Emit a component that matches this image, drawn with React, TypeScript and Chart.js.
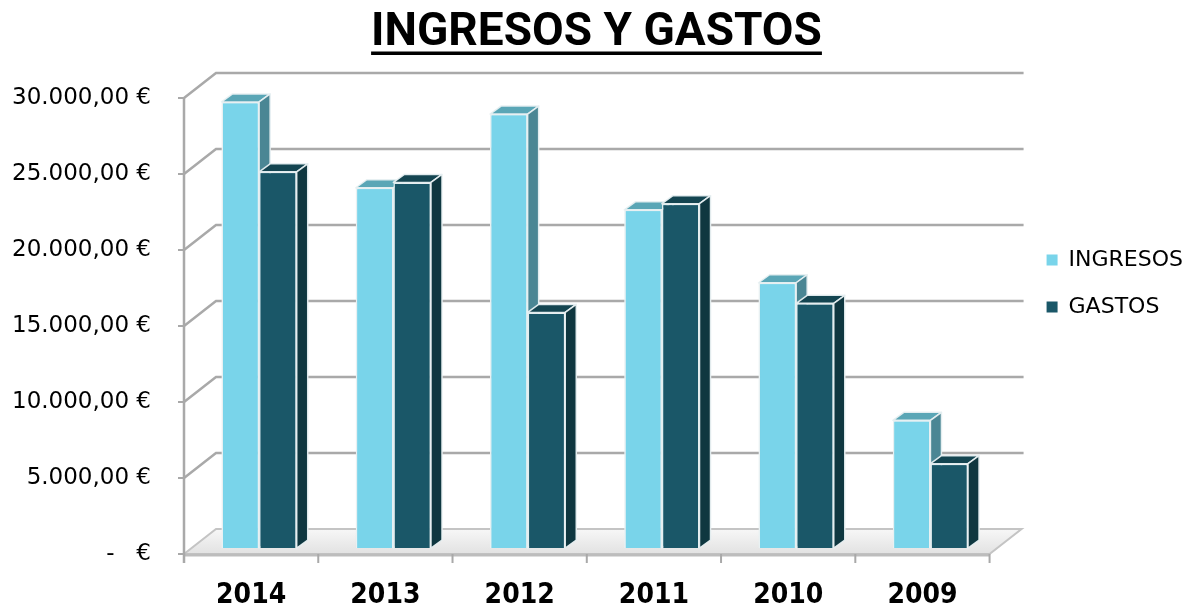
import React, { useEffect, useRef } from 'react';
import { Chart, registerables } from 'chart.js';

Chart.register(...registerables);

const TITLE = 'INGRESOS Y GASTOS';
const CATEGORIES = ['2014', '2013', '2012', '2011', '2010', '2009'];
const SERIES_NAMES = ['INGRESOS', 'GASTOS'];
const INGRESOS = [29350, 23700, 28550, 22250, 17450, 8400];
const GASTOS = [24750, 24050, 15500, 22650, 16100, 5550];
const Y_TICKS = [0, 5000, 10000, 15000, 20000, 25000, 30000];
const Y_TICK_LABELS = ['-   €', '5.000,00 €', '10.000,00 €', '15.000,00 €', '20.000,00 €', '25.000,00 €', '30.000,00 €'];

const FACE_COLORS = [
  { front: '#79D4EA', top: '#5AA6B6', side: '#4A8694' },
  { front: '#1A5768', top: '#144551', side: '#0F3740' },
];
const EDGE = 'rgba(232,240,242,0.95)';
const GRID = '#A9A9A9';

// 3D projection offsets (pixels)
const BAR_SHIFT = { x: 8, y: -6 }; // bar plane relative to front plane
const DEPTH = { x: 32, y: -25 }; // front plane to back wall
const BAR_DEPTH = { x: 11, y: -8 };

const TITLE_FONT = "Roboto, 'DejaVu Sans', sans-serif";
const TICK_FONT = "'DejaVu Sans', sans-serif";
const XLABEL_FONT = "'DejaVu Sans Condensed', 'DejaVu Sans', sans-serif";

function drawFaces(ctx: any, el: any, c: any) {
  const { x, y, base, width } = el.getProps(['x', 'y', 'base', 'width'], true);
  const l = x - width / 2;
  const r = x + width / 2;
  ctx.beginPath();
  ctx.moveTo(l, y);
  ctx.lineTo(r, y);
  ctx.lineTo(r + BAR_DEPTH.x, y + BAR_DEPTH.y);
  ctx.lineTo(l + BAR_DEPTH.x, y + BAR_DEPTH.y);
  ctx.closePath();
  ctx.fillStyle = c.top;
  ctx.fill();
  ctx.stroke();
  ctx.beginPath();
  ctx.moveTo(r, y);
  ctx.lineTo(r + BAR_DEPTH.x, y + BAR_DEPTH.y);
  ctx.lineTo(r + BAR_DEPTH.x, base + BAR_DEPTH.y);
  ctx.lineTo(r, base);
  ctx.closePath();
  ctx.fillStyle = c.side;
  ctx.fill();
  ctx.stroke();
}

const threeD = {
  id: 'threeD',
  beforeDatasetsDraw(chart: any) {
    const ctx = chart.ctx;
    const xs = chart.scales.x;
    const ys = chart.scales.y;
    const fx = (p: number) => p - BAR_SHIFT.x;
    const fy = (p: number) => p - BAR_SHIFT.y;
    const left = fx(xs.left);
    const right = fx(xs.right);
    const y0 = fy(ys.getPixelForValue(0));
    ctx.save();
    // floor
    ctx.beginPath();
    ctx.moveTo(left, y0);
    ctx.lineTo(right, y0);
    ctx.lineTo(right + DEPTH.x, y0 + DEPTH.y);
    ctx.lineTo(left + DEPTH.x, y0 + DEPTH.y);
    ctx.closePath();
    const g = ctx.createLinearGradient(0, y0 + DEPTH.y, 0, y0);
    g.addColorStop(0, '#F7F7F7');
    g.addColorStop(1, '#E2E2E2');
    ctx.fillStyle = g;
    ctx.fill();
    ctx.strokeStyle = '#C4C4C4';
    ctx.lineWidth = 2;
    ctx.stroke();
    ctx.beginPath();
    ctx.moveTo(left, y0 + 1);
    ctx.lineTo(right, y0 + 1);
    ctx.strokeStyle = '#BDBDBD';
    ctx.lineWidth = 3;
    ctx.stroke();
    // gridlines: side wall diagonal + back wall
    ctx.strokeStyle = GRID;
    ctx.lineWidth = 2.5;
    for (const v of Y_TICKS) {
      if (v === 0) continue;
      const yf = fy(ys.getPixelForValue(v));
      ctx.beginPath();
      ctx.moveTo(left, yf);
      ctx.lineTo(left + DEPTH.x, yf + DEPTH.y);
      ctx.lineTo(right + DEPTH.x + 2, yf + DEPTH.y);
      ctx.stroke();
    }
    // front value axis
    const yTop = fy(ys.getPixelForValue(Y_TICKS[Y_TICKS.length - 1]));
    ctx.beginPath();
    ctx.moveTo(left, yTop);
    ctx.lineTo(left, y0 + 9);
    ctx.stroke();
    ctx.lineWidth = 2;
    for (const v of Y_TICKS) {
      const yf = fy(ys.getPixelForValue(v));
      ctx.beginPath();
      ctx.moveTo(left - 6, yf);
      ctx.lineTo(left, yf);
      ctx.stroke();
    }
    const n = CATEGORIES.length;
    for (let i = 1; i <= n; i++) {
      const bx = fx(xs.left + (i * xs.width) / n);
      ctx.beginPath();
      ctx.moveTo(bx, y0);
      ctx.lineTo(bx, y0 + 9);
      ctx.stroke();
    }
    ctx.restore();
  },
  afterDatasetsDraw(chart: any) {
    // redraw in depth order: for each series left to right, front face then top and side
    const ctx = chart.ctx;
    ctx.save();
    ctx.lineJoin = 'round';
    chart.data.datasets.forEach((_: any, di: number) => {
      const meta = chart.getDatasetMeta(di);
      const c = FACE_COLORS[di];
      for (const el of meta.data) {
        el.draw(ctx, chart.chartArea);
        ctx.lineWidth = 1.5;
        ctx.strokeStyle = EDGE;
        drawFaces(ctx, el, c);
      }
    });
    ctx.restore();
  },
  afterDraw(chart: any) {
    const tb = chart.titleBlock;
    if (!tb) return;
    const ctx = chart.ctx;
    const opts = chart.options.plugins.title;
    ctx.save();
    ctx.font = `bold ${opts.font.size}px ${opts.font.family}`;
    const w = ctx.measureText(TITLE).width;
    const cx = (tb.left + tb.right) / 2;
    ctx.fillStyle = '#000';
    ctx.fillRect(cx - w / 2, 51.5, w, 3.5);
    ctx.restore();
  },
};

export default function App() {
  const ref = useRef<HTMLCanvasElement | null>(null);
  useEffect(() => {
    document.body.style.margin = '0';
    const canvas = ref.current;
    if (!canvas) return;
    const chart = new Chart(canvas, {
      type: 'bar',
      data: {
        labels: CATEGORIES,
        datasets: [
          {
            label: SERIES_NAMES[0],
            data: INGRESOS,
            backgroundColor: FACE_COLORS[0].front,
            borderColor: EDGE,
            borderWidth: 1.5,
          },
          {
            label: SERIES_NAMES[1],
            data: GASTOS,
            backgroundColor: FACE_COLORS[1].front,
            borderColor: EDGE,
            borderWidth: 1.5,
          },
        ],
      },
      options: {
        responsive: false,
        animation: false,
        layout: { padding: { left: 0, right: 2, top: 0, bottom: 0 } },
        datasets: { bar: { categoryPercentage: 0.56, barPercentage: 1.0 } },
        plugins: {
          title: {
            display: true,
            text: TITLE,
            color: '#000',
            font: { family: TITLE_FONT, size: 46, weight: 'bold' },
            padding: { top: 6, bottom: 30.8 },
          },
          legend: {
            position: 'right',
            align: 'start',
            title: { display: true, text: '', font: { size: 10 }, padding: { top: 212, bottom: 0 } },
            labels: {
              boxWidth: 11,
              boxHeight: 11,
              padding: 25,
              color: '#000',
              font: { family: TICK_FONT, size: 22 },
              generateLabels: (ch: any) =>
                ch.data.datasets.map((ds: any, i: number) => ({
                  text: ds.label,
                  fillStyle: ds.backgroundColor,
                  strokeStyle: ds.backgroundColor,
                  fontColor: '#000',
                  lineWidth: 0,
                  hidden: false,
                  datasetIndex: i,
                })),
            },
          },
          tooltip: { enabled: false },
        },
        scales: {
          x: {
            grid: { display: false, drawTicks: false },
            border: { display: false },
            ticks: {
              color: '#000',
              font: { family: XLABEL_FONT, size: 28, weight: 'bold' },
              padding: 31,
              labelOffset: -BAR_SHIFT.x,
              maxRotation: 0,
            },
            afterFit: (s: any) => {
              s.height = 62;
            },
          },
          y: {
            min: 0,
            max: 30000,
            grid: { display: false, drawTicks: false },
            border: { display: false },
            ticks: {
              stepSize: 5000,
              color: '#000',
              font: { family: TICK_FONT, size: 23 },
              padding: 41,
              labelOffset: -BAR_SHIFT.y,
              callback: (v: any) => {
                const i = Y_TICKS.indexOf(Number(v));
                return i >= 0 ? Y_TICK_LABELS[i] : '';
              },
            },
            afterFit: (s: any) => {
              s.width = 192;
            },
          },
          spacer: {
            position: 'right',
            display: true,
            grid: { display: false, drawTicks: false },
            border: { display: false },
            ticks: { display: false },
            afterFit: (s: any) => {
              s.width = 24;
            },
          },
        },
      } as any,
      plugins: [threeD],
    });
    return () => chart.destroy();
  }, []);
  return (
    <div style={{ width: 1195, height: 610, background: '#fff' }}>
      <canvas ref={ref} width={1195} height={610} />
    </div>
  );
}
